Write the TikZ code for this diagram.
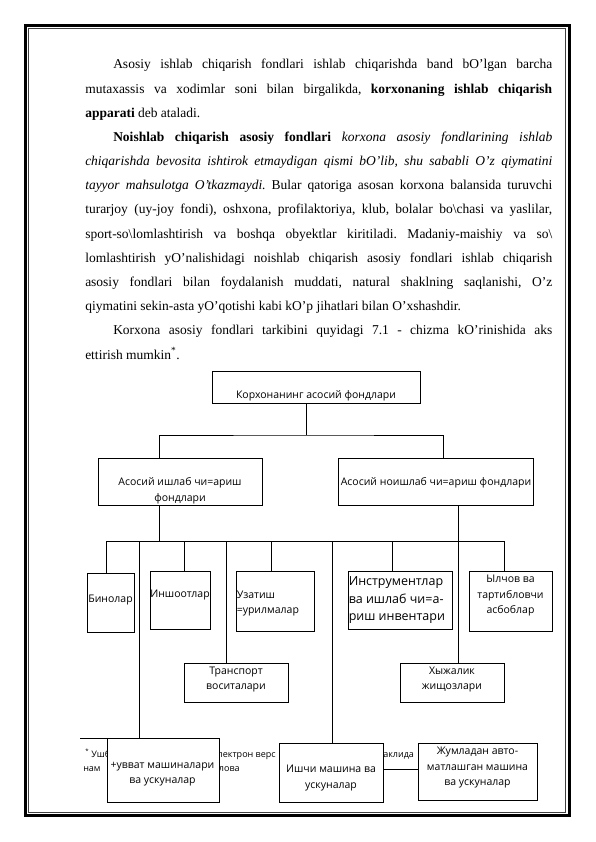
\documentclass[tikz,border=0pt]{standalone}
\usepackage{fontspec}
\setmainfont{Liberation Serif}
\newfontfamily\boxfont{Open Sans}
\frenchspacing
\tikzset{
  txtline/.style={anchor=base west,inner sep=0pt,font=\fontsize{13.5}{16}\selectfont},
  fondbox/.style={draw,fill=white,line width=.8pt,inner sep=0pt,anchor=north west},
  blabel/.style={inner sep=0pt,align=center,font=\boxfont\fontsize{10.5}{15.5}\selectfont},
  fnote/.style={anchor=base west,inner sep=0pt,font=\boxfont\fontsize{9}{10}\selectfont},
  conn/.style={line width=.8pt},
}
\begin{document}
\begin{tikzpicture}[x=1pt,y=-1pt,line width=.5pt]
\path[use as bounding box] (0,0) rectangle (595,842);
% page frame
\draw[line width=3pt] (25.5,25.5) rectangle (569,815.5);
\draw[line width=.8pt,black!75] (28.5,28.5) rectangle (565.8,812);
% text
\node[txtline] (l1) at (113,69) {\makebox[439pt][s]{Asosiy ishlab chiqarish fondlari ishlab chiqarishda band bO’lgan barcha}};
\node[txtline] (l2) at (85,93.2) {\makebox[467pt][s]{mutaxassis va xodimlar soni bilan birgalikda, \textbf{korxonaning ishlab chiqarish}}};
\node[txtline] (l3) at (85,117.3) {\textbf{apparati} deb ataladi.};
\node[txtline] (l4) at (113,141.5) {\makebox[439pt][s]{\textbf{Noishlab chiqarish asosiy fondlari} \textit{korxona asosiy fondlarining ishlab}}};
\node[txtline] (l5) at (85,165.7) {\makebox[467pt][s]{\textit{chiqarishda bevosita ishtirok etmaydigan qismi bO’lib, shu sababli O’z qiymatini}}};
\node[txtline] (l6) at (85,189.9) {\makebox[467pt][s]{\textit{tayyor mahsulotga O’tkazmaydi.} Bular qatoriga asosan korxona balansida turuvchi}};
\node[txtline] (l7) at (85,214) {\makebox[467pt][s]{turarjoy (uy-joy fondi), oshxona, profilaktoriya, klub, bolalar bo\textbackslash chasi va yaslilar,}};
\node[txtline] (l8) at (85,238.2) {\makebox[467pt][s]{sport-so\textbackslash lomlashtirish va boshqa obyektlar kiritiladi. Madaniy-maishiy va so\textbackslash}};
\node[txtline] (l9) at (85,262.4) {\makebox[467pt][s]{lomlashtirish yO’nalishidagi noishlab chiqarish asosiy fondlari ishlab chiqarish}};
\node[txtline] (l10) at (85,286.5) {\makebox[467pt][s]{asosiy fondlari bilan foydalanish muddati, natural shaklning saqlanishi, O’z}};
\node[txtline] (l11) at (85,310.7) {qiymatini sekin-asta yO’qotishi kabi kO’p jihatlari bilan O’xshashdir.};
\node[txtline] (l12) at (113,334.9) {\makebox[439pt][s]{Korxona asosiy fondlari tarkibini quyidagi 7.1 - chizma kO’rinishida aks}};
\node[txtline] (l13) at (85,359) {ettirish mumkin\textsuperscript{*}.};
% footnote (under the boxes)
\draw[conn] (80,738) -- (150,738);
\node[fnote] (fn1) at (85,757) {\textsuperscript{*} Ушб};
\node[fnote] (fn2) at (213,757) {электрон верс};
\node[fnote] (fn3) at (375,757) {шаклида};
\node[fnote] (fn4) at (83,771) {нам};
\node[fnote] (fn5) at (213,771) {илова};
% boxes
\node[fondbox,minimum width=208,minimum height=32] (top) at (212,371) {};
\node[fondbox,minimum width=164,minimum height=47] (prod) at (98,458) {};
\node[fondbox,minimum width=195,minimum height=47] (nonprod) at (338,458) {};
\node[fondbox,minimum width=47,minimum height=59] (bino) at (87,573) {};
\node[fondbox,minimum width=60,minimum height=58] (insh) at (150,571) {};
\node[fondbox,minimum width=78,minimum height=60] (uzat) at (236,571) {};
\node[fondbox,minimum width=104,minimum height=58] (instr) at (348,571) {};
\node[fondbox,minimum width=83,minimum height=60] (olch) at (469,571) {};
\node[fondbox,minimum width=104,minimum height=39] (transp) at (184,663) {};
\node[fondbox,minimum width=104,minimum height=39] (hojal) at (400,663) {};
\node[fondbox,minimum width=112,minimum height=64] (quvvat) at (107,738) {};
\node[fondbox,minimum width=104,minimum height=59] (ishchi) at (279,743) {};
\node[fondbox,minimum width=119,minimum height=57] (jumla) at (418,743) {};
% box texts
\node[blabel] (top-t) at (316,396) {Корхонанинг асосий фондлари};
\node[blabel] (prod-t) at (180,490.5) {Асосий ишлаб чи=ариш\\фондлари};
\node[blabel] (nonprod-t) at (436,483) {Асосий ноишлаб чи=ариш фондлари};
\node[blabel] (bino-t) at (110.5,600) {Бинолар};
\node[blabel] (insh-t) at (180,595) {Иншоотлар};
\node[blabel,align=left,anchor=west] (uzat-t) at (236.5,603.5) {Узатиш\\=урилмалар};
\node[blabel,align=left,anchor=west,font=\boxfont\fontsize{12.5}{17.5}\selectfont] (instr-t) at (348.5,600.5) {Инструментлар\\ва ишлаб чи=а-\\риш инвентари};
\node[blabel] (olch-t) at (510.5,596) {Ылчов ва\\тартибловчи\\асбоблар};
\node[blabel] (transp-t) at (236,679.5) {Транспорт\\воситалари};
\node[blabel] (hojal-t) at (452,679.5) {Хыжалик\\жищозлари};
\node[blabel] (quvvat-t) at (162.5,774) {+увват машиналари\\ва ускуналар};
\node[blabel] (ishchi-t) at (331,778) {Ишчи машина ва\\ускуналар};
\node[blabel] (jumla-t) at (477.5,768) {Жумладан авто-\\матлашган машина\\ва ускуналар};
% connectors
\coordinate (fork) at (306,435);
\coordinate (bus) at (106,541);
\draw[conn] (top.south -| fork) -- (fork);
\draw[conn] (159,0 |- prod.north) |- (fork) -| (443,0 |- nonprod.north);
\draw[conn] (159,0 |- prod.south) -- (159,0 |- bus);
\draw[conn] (bus) -- (504,0 |- bus);
\draw[conn] (458,0 |- nonprod.south) -- (458,0 |- hojal.north);
\foreach \x/\n in {106/bino,139/quvvat,184/insh,226/transp,271/uzat,332/ishchi,392/instr,504/olch}
  \draw[conn] (\x,0 |- bus) -- (\x,0 |- \n.north);
\draw[conn] (ishchi.east |- 0,769) -- (jumla.west |- 0,769);
\end{tikzpicture}
\end{document}
